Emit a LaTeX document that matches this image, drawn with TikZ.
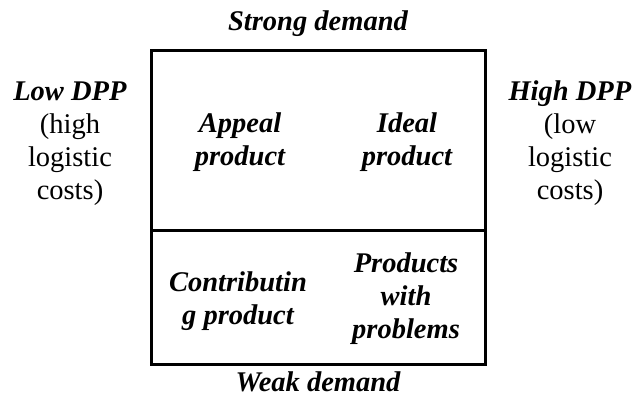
\documentclass[tikz,border=0pt]{standalone}
\usepackage{fontspec}
\setmainfont{Liberation Serif}
\newfontfamily\timesfont{Liberation Serif}
\usetikzlibrary{positioning}

\tikzset{
  cell/.style={align=center, anchor=base, font=\timesfont\fontsize{28.5}{33}\selectfont\bfseries\itshape},
  axis/.style={align=center, anchor=base, font=\timesfont\fontsize{28.5}{33}\selectfont},
}

\begin{document}
\begin{tikzpicture}[x=1pt,y=-1pt]
\useasboundingbox (0,0) rectangle (639,396);

% the matrix
\draw[line width=3pt] (151,51) rectangle (485,364);
\coordinate (midl) at (151,230);
\coordinate (midr) at (485,230);
\draw[line width=3pt] (midl)--(midr);

% demand labels
\path
(318,31)   node[cell] (strong) {Strong demand}
(318,391)  node[cell] (weak) {Weak demand}
;

% DPP labels (anchored at the baseline of the last line)
\path
(70,199)   node[axis] (low) {\textbf{\textit{Low DPP}}\\(high\\logistic\\costs)}
(570,199)  node[axis] (high) {\textbf{\textit{High DPP}}\\(low\\logistic\\costs)}
;

% the four quadrants
\path
(240,165)  node[cell] (appeal) {Appeal\\product}
(407,165)  node[cell] (ideal) {Ideal\\product}
(238,324)  node[cell] (contrib) {Contributin\\g product}
(406,338)  node[cell] (problems) {Products\\with\\problems}
;

\end{tikzpicture}
\end{document}
